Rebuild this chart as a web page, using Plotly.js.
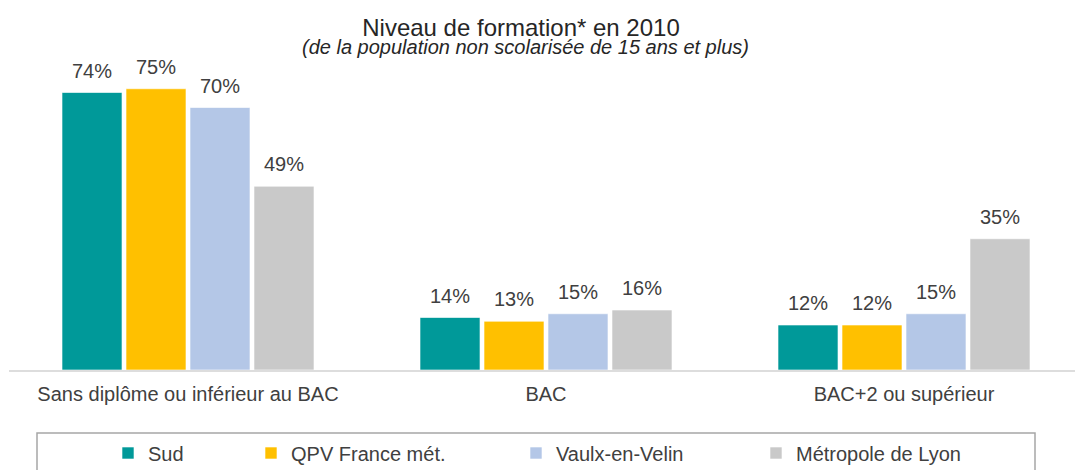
<!DOCTYPE html>
<html>
<head>
<meta charset="utf-8">
<script src="https://cdn.plot.ly/plotly-3.0.1.min.js"></script>
<style>html,body{margin:0;padding:0;background:#fff;}#chart{width:1075px;height:470px;}</style>
</head>
<body>
<div id="chart"></div>
<script>
const categories = ["Sans diplôme ou inférieur au BAC", "BAC", "BAC+2 ou supérieur"];
const seriesNames = ["Sud", "QPV France mét.", "Vaulx-en-Velin", "Métropole de Lyon"];
const sud = [74, 14, 12];
const qpv = [75, 13, 12];
const vaulx = [70, 15, 15];
const metropole = [49, 16, 35];
const colors = ["#009999", "#FFC000", "#B4C7E7", "#C9C9C9"];
const values = [sud, qpv, vaulx, metropole];
const legendIds = ["legend", "legend2", "legend3", "legend4"];

const font = "Liberation Sans, Arial, sans-serif";
const bargap = 0.285;
const slot = (1 - bargap) / values.length;

const traces = values.map((v, i) => ({
  type: "bar",
  name: seriesNames[i],
  x: categories,
  y: v,
  marker: {color: colors[i], line: {color: "rgba(255,255,255,0.6)", width: 1}},
  legend: legendIds[i],
  hoverinfo: "skip"
}));

// value labels placed through the axes above each grouped bar
const labelAnnotations = [];
values.forEach((v, i) => {
  v.forEach((d, c) => {
    labelAnnotations.push({
      xref: "x", yref: "y",
      x: c + (i - (values.length - 1) / 2) * slot,
      y: d,
      text: d + "%",
      showarrow: false,
      xanchor: "center",
      yanchor: "bottom",
      yshift: 9,
      font: {family: font, size: 20, color: "#404040"}
    });
  });
});

const l = 9, W = 1066;
const textStarts = [145, 288, 553, 793];
const legendY = 1 - (453 - 70) / 300;
const legends = {};
legendIds.forEach((id, i) => {
  legends[id] = {
    orientation: "h",
    x: (textStarts[i] - 37 - l) / W,
    xanchor: "left",
    y: legendY,
    yanchor: "middle",
    bgcolor: "rgba(0,0,0,0)",
    font: {family: font, size: 20, color: "#404040"},
    itemwidth: 30
  };
});

const layout = Object.assign({
  width: 1075,
  height: 470,
  margin: {l: l, r: 0, t: 70, b: 100, autoexpand: false},
  paper_bgcolor: "#fff",
  plot_bgcolor: "#fff",
  barmode: "group",
  bargap: bargap,
  bargroupgap: 0.0625,
  showlegend: true,
  title: {
    text: "Niveau de formation* en 2010",
    font: {family: font, size: 24, color: "#262626"},
    xref: "container", yref: "container",
    x: 521 / 1075, xanchor: "center",
    y: 1 - 27.5 / 470, yanchor: "middle"
  },
  xaxis: {
    type: "category",
    range: [-0.5, -0.5 + W / 358],
    showline: true,
    linecolor: "#DDDDDD",
    linewidth: 1.5,
    ticks: "",
    ticklabelstandoff: 5,
    showgrid: false,
    zeroline: false,
    automargin: false,
    tickfont: {family: font, size: 20, color: "#404040"}
  },
  yaxis: {
    range: [0, 80],
    visible: false,
    showgrid: false,
    zeroline: false,
    automargin: false
  },
  annotations: [{
    text: "<i>(de la population non scolarisée de 15 ans et plus)</i>",
    xref: "paper", yref: "paper",
    x: (525.5 - l) / W, xanchor: "center",
    y: 1 + (70 - 47) / 300, yanchor: "middle",
    showarrow: false,
    font: {family: font, size: 20, color: "#262626"}
  }].concat(labelAnnotations),
  shapes: [{
    type: "rect",
    xref: "paper", yref: "paper",
    x0: (37 - l) / W, x1: (1035 - l) / W,
    y0: 1 - (433 - 70) / 300, y1: 1 - (490 - 70) / 300,
    line: {color: "#A6A6A6", width: 1.5},
    fillcolor: "rgba(0,0,0,0)"
  }]
}, legends);

Plotly.newPlot("chart", traces, layout, {displayModeBar: false, staticPlot: true});
</script>
</body>
</html>
